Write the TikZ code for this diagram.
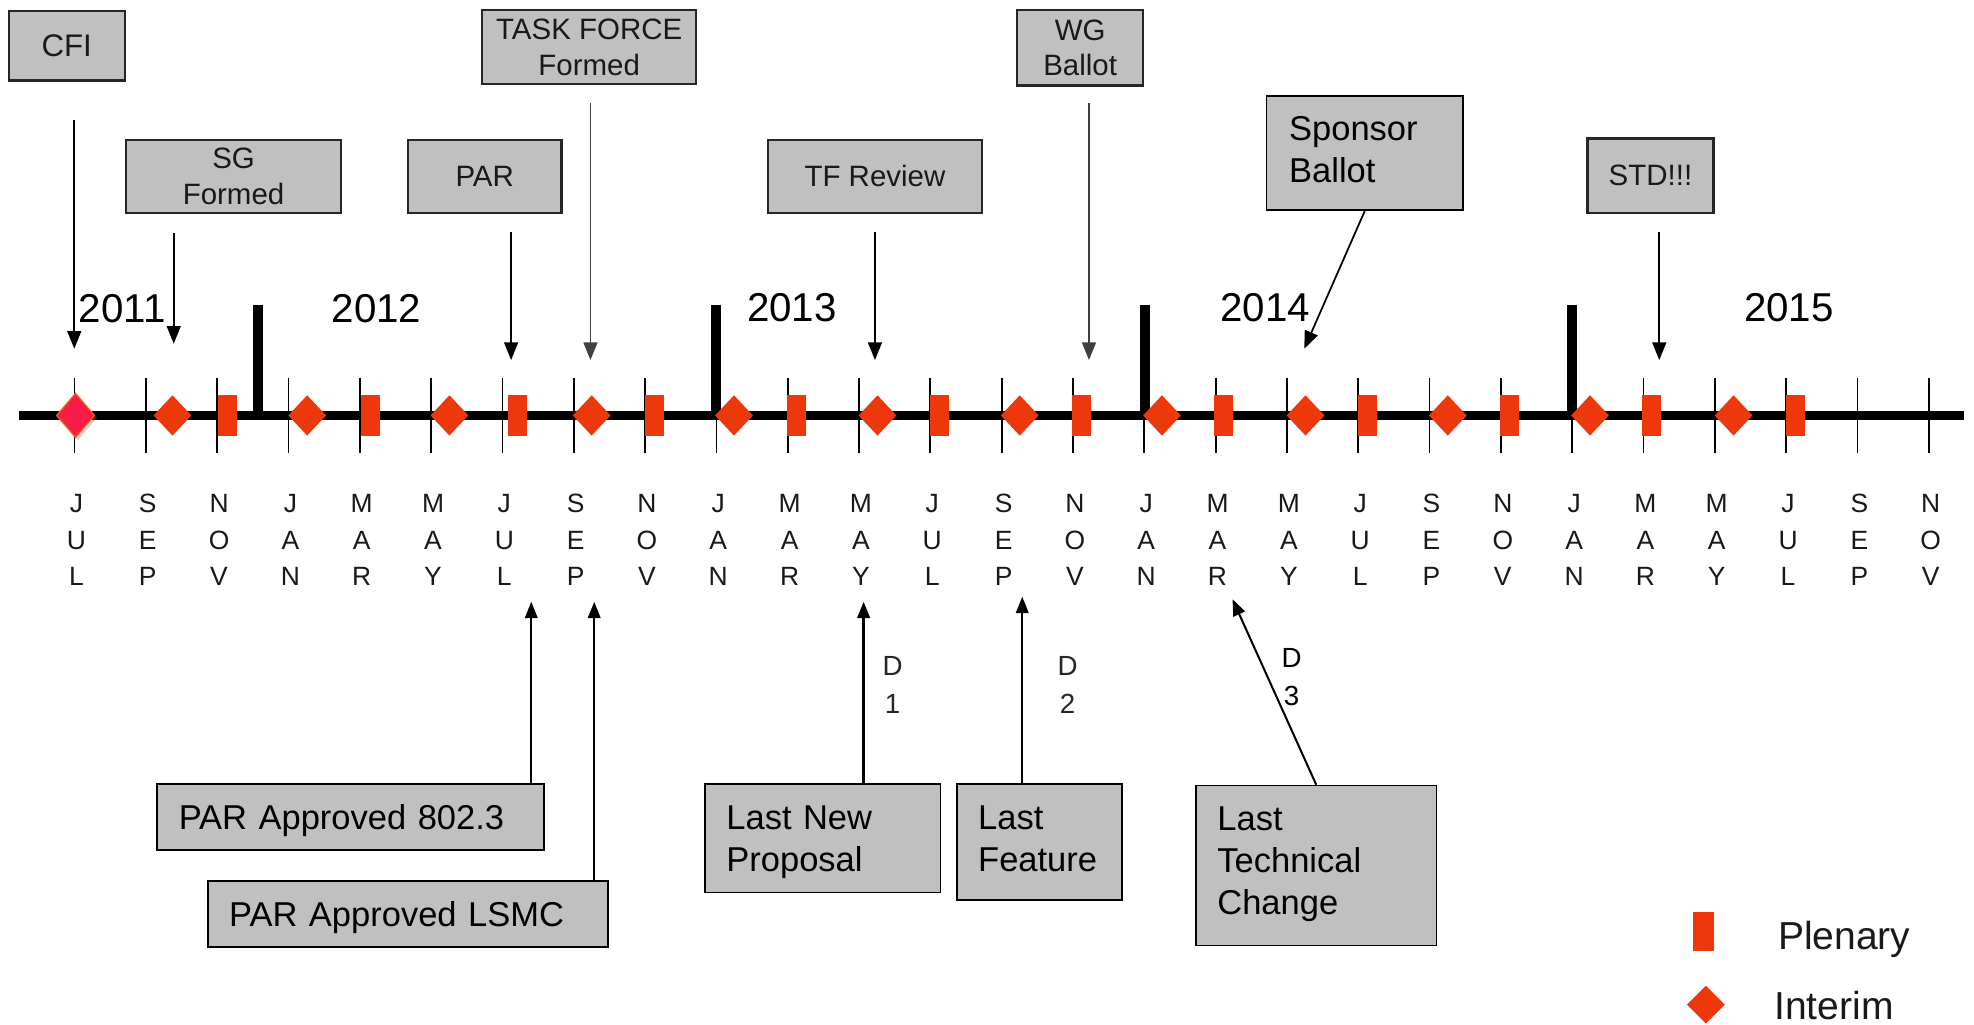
\documentclass[tikz,border=0pt]{standalone}
\usepackage{fontspec}
\setmainfont{Liberation Sans}
\usetikzlibrary{arrows.meta,shadows}
\definecolor{mk}{RGB}{237,56,12}
\definecolor{cfired}{RGB}{250,28,72}
\definecolor{cfiedge}{RGB}{240,100,20}
\definecolor{boxgray}{RGB}{192,192,192}
\begin{document}
\begin{tikzpicture}[x=0.5pt,y=-0.5pt,
  topbox/.style={draw=black!85,line width=0.9pt,fill=boxgray,inner sep=0pt,align=center,
    font=\fontsize{11.7}{14.2}\selectfont,text=black!90},
  botbox/.style={draw=black,line width=0.7pt,fill=boxgray,inner xsep=8.5pt,inner ysep=0pt,
    align=left,font=\fontsize{13.7}{16.7}\selectfont,text height=9.8pt},
  downarrow/.style={line width=0.7pt,-{Triangle[width=5.5pt,length=7pt]}},
  uparrow/.style={line width=0.8pt,-{Triangle[width=5pt,length=6.5pt]}},
  yearlbl/.style={font=\fontsize{16}{19}\selectfont,inner sep=0pt},
  monthlbl/.style={font=\fontsize{10.5}{14.5}\selectfont,align=center,text=black!90,inner sep=0pt},
  dlbl/.style={font=\fontsize{11}{15}\selectfont,align=center,inner sep=0pt,text=black!85},
  legendlbl/.style={font=\fontsize{15.5}{18}\selectfont,anchor=base west,inner sep=0pt,text=black!90},
]
\fill[white] (0,0) rectangle (1568,813.4);
\useasboundingbox (0,0) rectangle (1568,813.4);

% timeline
\draw[line width=3.6pt] (15,330) -- (1560,330);
% ticks and month labels
\foreach \m [count=\i from 0] in {{J\\U\\L},{S\\E\\P},{N\\O\\V},{J\\A\\N},{M\\A\\R},{M\\A\\Y},{J\\U\\L},{S\\E\\P},{N\\O\\V},{J\\A\\N},{M\\A\\R},{M\\A\\Y},{J\\U\\L},{S\\E\\P},{N\\O\\V},{J\\A\\N},{M\\A\\R},{M\\A\\Y},{J\\U\\L},{S\\E\\P},{N\\O\\V},{J\\A\\N},{M\\A\\R},{M\\A\\Y},{J\\U\\L},{S\\E\\P},{N\\O\\V}}{
  \pgfmathsetmacro{\tx}{59.2+56.65*\i}
  \draw[line width=0.7pt] (\tx,300) -- (\tx,360);
  \node[monthlbl] (m\i) at (\tx+1.5,429) {\m};
}
% year bars
\foreach \bx in {205,569,909.5,1249}{
  \draw[line width=4pt] (\bx,242) -- (\bx,330);
}
% year labels
\node[yearlbl] (y2011) at (97,245) {2011};
\node[yearlbl] (y2012) at (299,245) {2012};
\node[yearlbl] (y2013) at (629,244) {2013};
\node[yearlbl] (y2014) at (1005,244) {2014};
\node[yearlbl] (y2015) at (1421,244) {2015};

% markers
\foreach \x in {137,244,357,470,583,697,810,923,1037,1150,1263,1377}{
  \fill[mk] (\x-15,330) -- (\x,314) -- (\x+15,330) -- (\x,346) -- cycle;
}
\foreach \x in {181,294,411,520,633,746,859,972,1086,1199,1312,1426}{
  \fill[mk] (\x-7.5,314) rectangle (\x+7.5,346);
}
% CFI diamond
\filldraw[fill=cfired,draw=cfiedge,line width=0.5pt,
  drop shadow={opacity=0.35,shadow xshift=1pt,shadow yshift=-1pt}]
  (45,330) -- (60,312.5) -- (75,330) -- (60,347.5) -- cycle;

% top boxes
\node[topbox,minimum width=46pt,minimum height=27.5pt,font=\fontsize{12.4}{14.5}\selectfont] (cfi) at (53,36.5) {CFI};
\node[topbox,minimum width=85.5pt,minimum height=29pt] (sg) at (185.5,140) {SG\\Formed};
\node[topbox,minimum width=61pt,minimum height=29pt] (par) at (385,140) {PAR};
\node[topbox,minimum width=85pt,minimum height=29.5pt] (tf) at (468,37.5) {TASK FORCE\\Formed};
\node[topbox,minimum width=85pt,minimum height=29pt] (tfr) at (695,140) {TF Review};
\node[topbox,minimum width=50pt,minimum height=30pt] (wg) at (858,38) {WG\\Ballot};
\node[botbox,inner xsep=9pt,text width=60pt,minimum height=45.5pt,text depth=19.5pt] (sb) at (1084,121.5) {Sponsor\\Ballot};
\node[topbox,minimum width=50pt,minimum height=29.5pt] (std) at (1311,139.5) {STD!!!};

% top arrows
\coordinate (cfiS) at (59,95);   \coordinate (cfiT) at (59,277);
\coordinate (sgS) at (138,185);  \coordinate (sgT) at (138,273);
\coordinate (parS) at (406,184); \coordinate (parT) at (406,286);
\coordinate (tfS) at (469,82);   \coordinate (tfT) at (469,286);
\coordinate (tfrS) at (695,184); \coordinate (tfrT) at (695,286);
\coordinate (wgS) at (865,82);   \coordinate (wgT) at (865,286);
\coordinate (sbT) at (1036,277);
\coordinate (stdS) at (1318,184); \coordinate (stdT) at (1318,286);
\draw[downarrow] (cfiS) -- (cfiT);
\draw[downarrow] (sgS) -- (sgT);
\draw[downarrow] (parS) -- (parT);
\draw[downarrow,black!75] (tfS) -- (tfT);
\draw[downarrow] (tfrS) -- (tfrT);
\draw[downarrow,black!75] (wgS) -- (wgT);
\draw[downarrow] (sb.south) -- (sbT);
\draw[downarrow] (stdS) -- (stdT);

% bottom boxes
\node[botbox,text width=136.5pt,minimum height=26pt,text depth=0pt] (pa1) at (278.5,649) {PAR Approved 802.3};
\node[botbox,text width=142pt,minimum height=26pt,text depth=0pt] (pa2) at (324,726) {PAR Approved LSMC};
\node[botbox,text width=76.5pt,minimum height=43pt,text depth=16.7pt] (lnp) at (653.5,666) {Last New\\Proposal};
\node[botbox,text width=48.5pt,minimum height=46pt,text depth=19.7pt] (lf) at (825.5,669) {Last\\Feature};
\node[botbox,text width=78.5pt,minimum height=63.5pt,text depth=37.4pt] (ltc) at (1045.5,687.5) {Last\\Technical\\Change};

% bottom arrows
\coordinate (t1) at (422,478);
\coordinate (t2) at (472,478);
\coordinate (t3) at (686,478);
\coordinate (t4) at (812,474);
\coordinate (t5) at (979,476);
\draw[uparrow] (pa1.north -| t1) -- (t1);
\draw[uparrow] (pa2.north -| t2) -- (t2);
\draw[uparrow,line width=1pt] (lnp.north -| t3) -- (t3);
\draw[uparrow] (lf.north -| t4) -- (t4);
\draw[uparrow] (ltc.north) -- (t5);

% D labels
\node[dlbl] (d1) at (709,544) {D\\1};
\node[dlbl] (d2) at (848,544) {D\\2};
\node[dlbl,text=black] (d3) at (1026,538) {D\\3};

% legend
\fill[mk] (1344.5,724.5) rectangle (1361.5,755.5);
\fill[mk] (1340,798) -- (1355,783) -- (1370,798) -- (1355,813) -- cycle;
\node[legendlbl] (lp) at (1412,754) {Plenary};
\node[legendlbl] (li) at (1409,810) {Interim};
\end{tikzpicture}
\end{document}
